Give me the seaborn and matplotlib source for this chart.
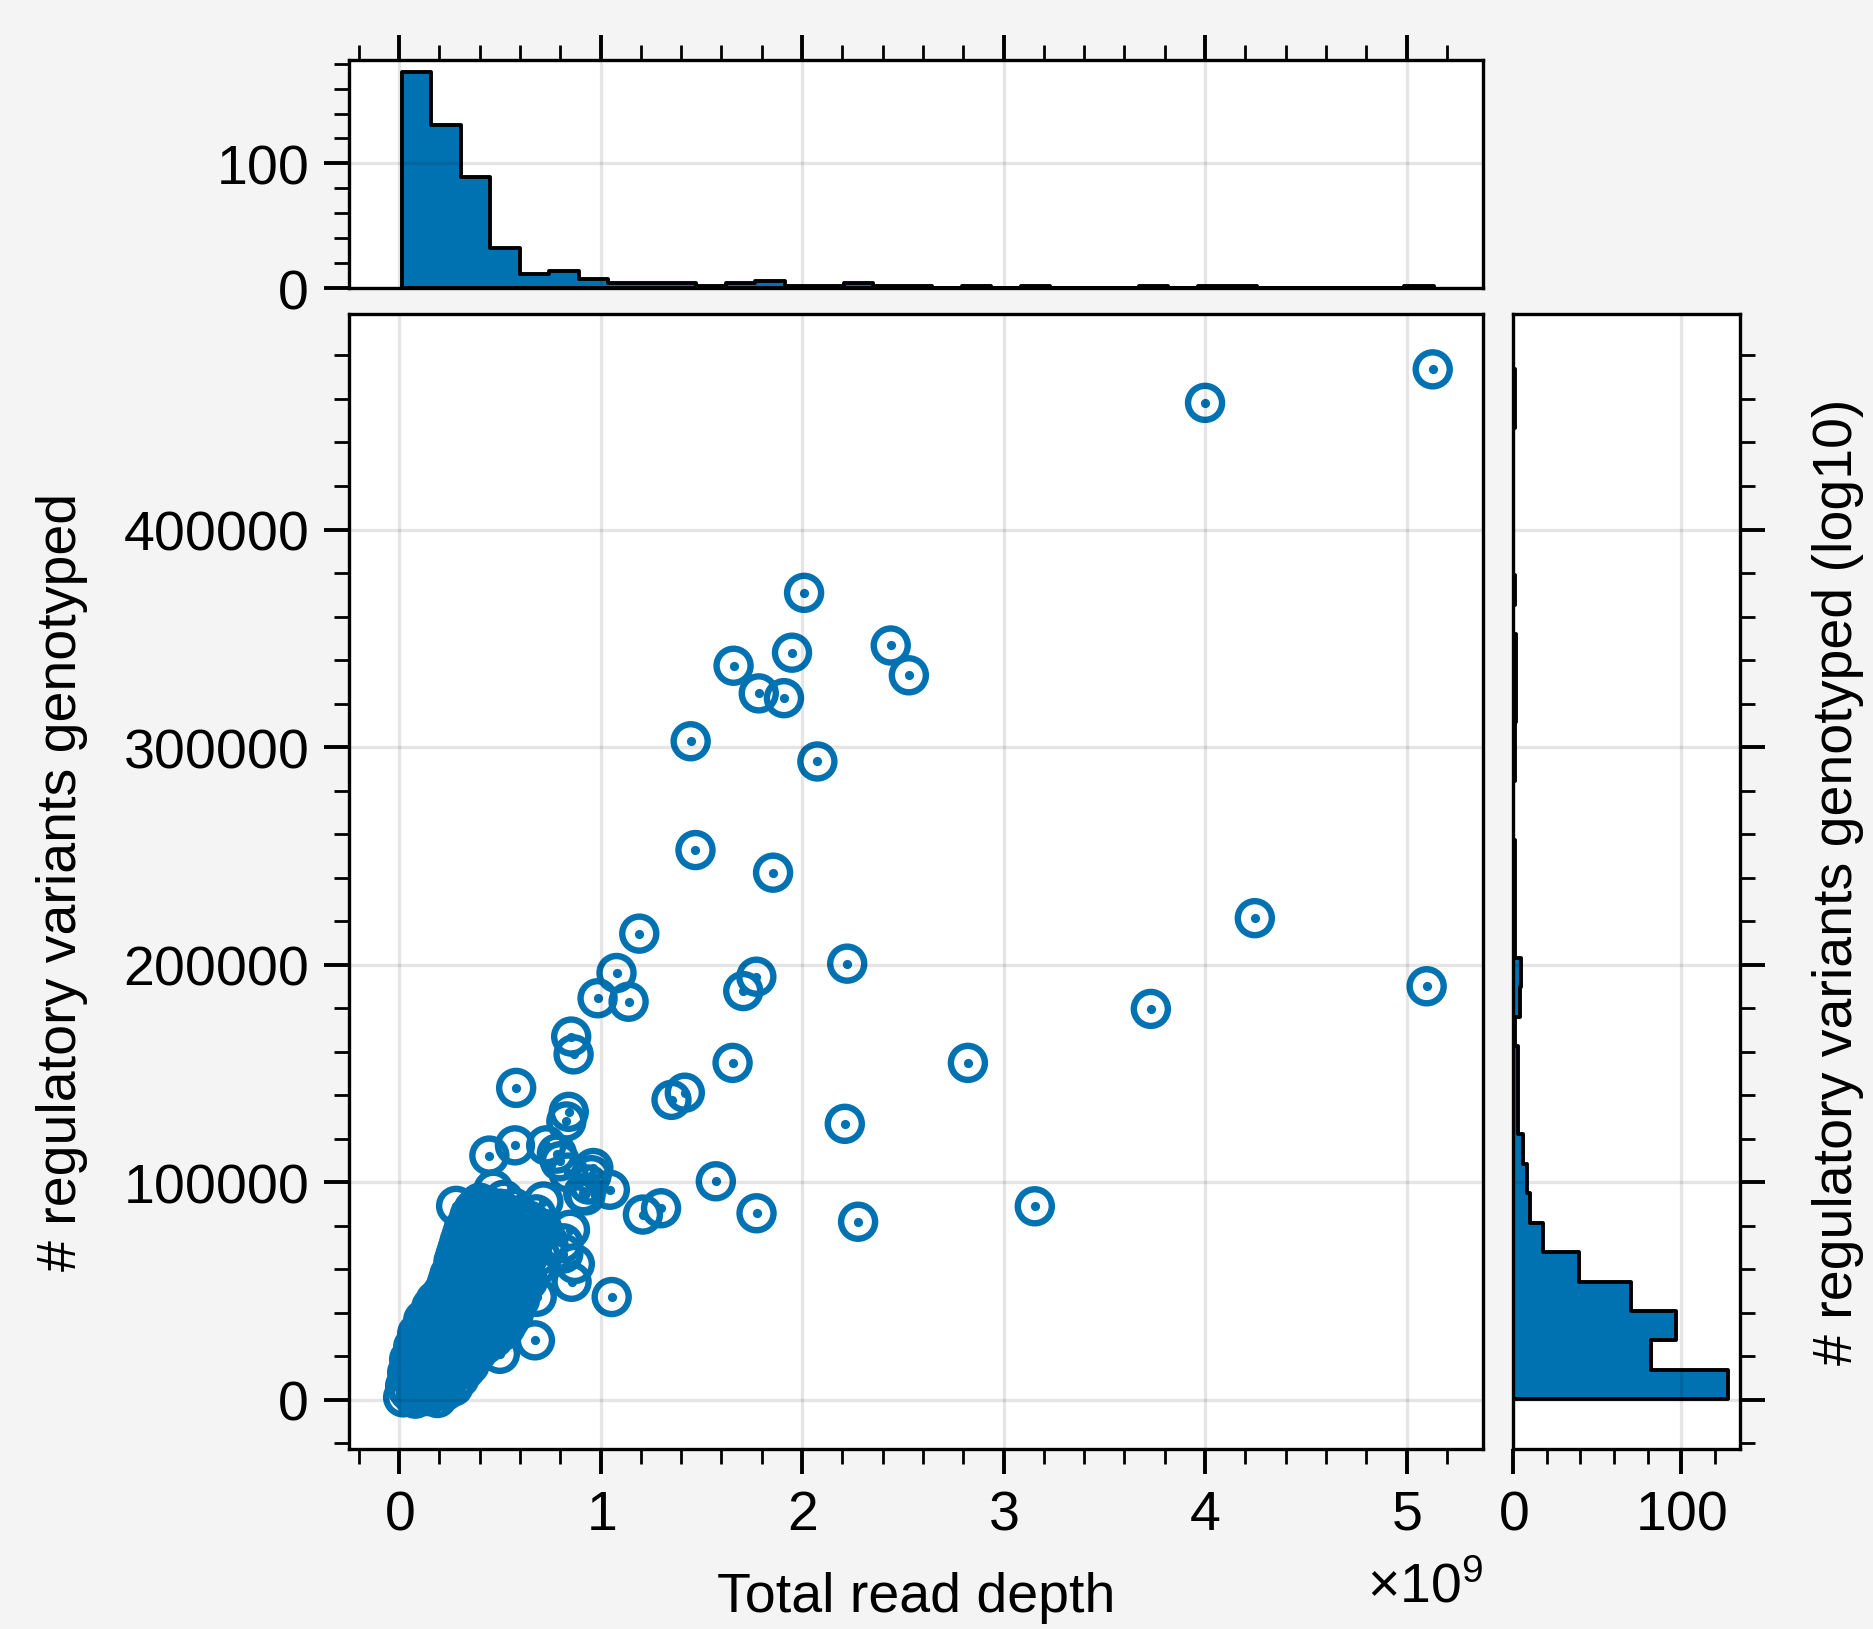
import numpy as np
import pandas as pd
import matplotlib
matplotlib.use("Agg")
import matplotlib.pyplot as plt
from matplotlib.ticker import MultipleLocator
import seaborn as sns

sns.set_theme(style="ticks")
plt.rcParams["font.family"] = ["Liberation Sans", "DejaVu Sans"]
plt.rcParams["mathtext.fontset"] = "custom"
plt.rcParams["mathtext.rm"] = "Liberation Sans"
plt.rcParams["mathtext.it"] = "Liberation Sans:italic"
plt.rcParams["axes.formatter.use_mathtext"] = True
plt.rcParams["axes.axisbelow"] = "line"
plt.rcParams["font.size"] = 20
plt.rcParams["text.color"] = "black"
plt.rcParams["axes.labelcolor"] = "black"
plt.rcParams["xtick.color"] = "black"
plt.rcParams["ytick.color"] = "black"

BLUE = "#0072B2"

# scattered samples (read depth in 1e9, variants in 1e3)
out_depth = [5.13, 4.00, 2.01, 1.66, 1.95, 2.44, 2.53, 1.785, 1.91, 1.447,
             2.076, 1.471, 1.856, 1.192, 4.247, 2.224, 5.10, 1.079, 0.985, 1.139,
             1.773, 1.708, 3.731, 0.854, 0.866, 1.655, 2.823, 0.581, 1.352, 1.418,
             2.212, 0.842, 0.830, 0.575, 0.448, 0.730, 0.783, 1.572, 0.964, 1.046,
             0.914, 3.155, 1.210, 1.300, 1.774, 2.278, 1.055, 0.674, 0.283, 0.856,
             0.468, 0.716, 0.848, 0.815, 0.798, 0.500, 0.683, 0.683, 0.815, 0.940,
             0.955, 0.925, 0.840, 0.872]
out_variants = [473.6, 458.2, 370.9, 337.4, 343.4, 346.7, 333.0, 324.7, 322.5, 302.7,
                293.4, 252.7, 242.3, 214.3, 221.4, 200.5, 190.1, 196.2, 184.6, 183.0,
                194.5, 187.9, 179.7, 167.0, 158.8, 154.9, 154.9, 143.4, 137.9, 141.2,
                126.9, 132.4, 128.0, 117.0, 112.3, 117.0, 113.2, 100.5, 106.6, 96.6,
                95.0, 89.0, 85.2, 88.1, 85.8, 81.9, 47.3, 27.4, 89.2, 54.3,
                96.6, 91.2, 78.2, 72.0, 109.7, 21.2, 61.2, 47.4, 67.3, 99.0,
                103.3, 94.0, 104.5, 62.5]

# dense cluster near the origin
blob_depth = [0.02, 0.08, 0.14, 0.19,
              0.05, 0.11, 0.17, 0.23,
              0.03, 0.09, 0.15, 0.21, 0.27,
              0.06, 0.12, 0.18, 0.24, 0.30,
              0.04, 0.10, 0.16, 0.22, 0.28, 0.33,
              0.07, 0.13, 0.19, 0.25, 0.31, 0.35,
              0.05, 0.11, 0.17, 0.23, 0.29, 0.36,
              0.08, 0.14, 0.20, 0.26, 0.32, 0.39,
              0.07, 0.13, 0.19, 0.25, 0.31, 0.37, 0.43,
              0.10, 0.16, 0.22, 0.28, 0.34, 0.40, 0.47,
              0.09, 0.15, 0.21, 0.27, 0.33, 0.39, 0.45, 0.51,
              0.12, 0.18, 0.24, 0.30, 0.36, 0.42, 0.48, 0.53,
              0.12, 0.18, 0.24, 0.30, 0.36, 0.42, 0.48, 0.55,
              0.15, 0.21, 0.27, 0.33, 0.39, 0.45, 0.51, 0.57,
              0.16, 0.21, 0.27, 0.33, 0.39, 0.45, 0.51, 0.58,
              0.18, 0.24, 0.30, 0.36, 0.42, 0.48, 0.54, 0.60,
              0.21, 0.26, 0.32, 0.38, 0.44, 0.50, 0.56, 0.61,
              0.23, 0.29, 0.35, 0.41, 0.47, 0.53, 0.59,
              0.24, 0.30, 0.36, 0.42, 0.48, 0.54, 0.60, 0.64,
              0.25, 0.31, 0.37, 0.43, 0.49, 0.55, 0.61,
              0.27, 0.32, 0.38, 0.44, 0.50, 0.56, 0.62,
              0.27, 0.33, 0.39, 0.45, 0.51, 0.57, 0.63,
              0.28, 0.34, 0.40, 0.46, 0.52, 0.58, 0.65, 0.70,
              0.29, 0.35, 0.41, 0.47, 0.53, 0.59, 0.66,
              0.30, 0.36, 0.42, 0.48, 0.54, 0.60, 0.67, 0.74,
              0.31, 0.37, 0.43, 0.49, 0.55, 0.61, 0.69,
              0.32, 0.38, 0.44, 0.50, 0.56, 0.63, 0.71,
              0.34, 0.40, 0.46, 0.52, 0.58, 0.65,
              0.35, 0.41, 0.47, 0.53, 0.60, 0.68,
              0.37, 0.44, 0.50, 0.57,
              0.40, 0.52]
blob_variants = [1.2, 0.6, 1.8, 0.9,
                 3.9, 4.6, 3.5, 4.2,
                 6.5, 7.4, 6.8, 7.9, 6.2,
                 9.8, 10.5, 9.6, 10.9, 10.1,
                 12.6, 13.5, 12.2, 13.9, 12.8, 14.1,
                 15.7, 16.4, 16.0, 15.5, 16.8, 16.2,
                 18.7, 19.6, 18.4, 20.1, 19.2, 18.6,
                 21.6, 22.5, 21.9, 22.8, 21.4, 22.2,
                 24.5, 25.6, 24.8, 26.0, 25.1, 24.2, 25.7,
                 27.7, 28.6, 27.5, 28.9, 28.1, 27.3, 28.4,
                 30.6, 31.8, 30.3, 31.5, 30.9, 32.0, 30.4, 31.6,
                 33.6, 34.7, 33.9, 34.3, 33.4, 34.9, 34.1, 33.7,
                 36.8, 37.7, 36.3, 38.1, 37.2, 36.5, 37.9, 36.9,
                 39.6, 40.8, 39.9, 40.5, 39.4, 40.7, 40.1, 39.8,
                 42.7, 43.9, 42.4, 43.6, 42.9, 44.0, 42.5, 43.3,
                 45.6, 46.7, 45.9, 46.4, 45.3, 46.8, 45.7, 46.2,
                 48.6, 49.8, 48.9, 50.1, 48.4, 49.5, 48.8, 50.2,
                 51.7, 52.5, 51.4, 52.8, 51.9, 52.3, 51.6,
                 54.5, 55.7, 54.9, 56.0, 54.6, 55.4, 56.1, 54.8,
                 57.6, 58.5, 57.9, 58.7, 57.4, 58.3, 57.8,
                 60.8, 61.9, 60.4, 61.6, 60.9, 62.0, 61.2,
                 63.7, 64.6, 63.9, 64.4, 63.5, 64.8, 64.1,
                 66.7, 67.8, 66.3, 67.5, 66.9, 68.0, 67.2, 66.6,
                 69.6, 70.7, 69.9, 70.4, 69.5, 70.8, 70.2,
                 72.8, 73.9, 72.5, 73.6, 72.9, 74.1, 73.3, 72.7,
                 75.6, 76.5, 75.9, 76.7, 75.4, 76.3, 75.8,
                 78.6, 79.8, 78.9, 80.1, 78.4, 79.5, 78.8,
                 81.7, 82.6, 81.9, 82.4, 81.5, 82.2,
                 84.7, 85.9, 84.4, 85.6, 84.9, 85.3,
                 87.6, 88.5, 87.9, 88.3,
                 90.6, 92.0]

# marginal histogram counts (35 bins each)
depth_min, depth_max = 0.012e9, 5.136e9
depth_counts = [173, 131, 89, 32, 11, 14, 7, 4, 4, 4, 2, 4, 6, 2, 2, 4, 2, 2,
                0, 2, 0, 2, 0, 0, 0, 2, 0, 2, 2, 0, 0, 0, 0, 0, 2]
var_min, var_max = 300, 473600
var_counts = [128, 82, 97, 70, 39, 18, 10, 8, 6, 3, 3, 3, 1, 4, 5, 1, 1, 1,
              1, 0, 0, 1, 1, 2, 2, 2, 0, 1, 0, 0, 0, 0, 0, 1, 1]

df = pd.DataFrame({
    "depth": np.array(out_depth + blob_depth) * 1e9,
    "variants": np.array(out_variants + blob_variants) * 1e3,
})
n_bins = len(depth_counts)
depth_w = (depth_max - depth_min) / n_bins
var_w = (var_max - var_min) / n_bins
depth_hist = pd.DataFrame({
    "mid": depth_min + depth_w * (np.arange(n_bins) + 0.5),
    "count": depth_counts,
})
var_hist = pd.DataFrame({
    "mid": var_min + var_w * (np.arange(n_bins) + 0.5),
    "count": var_counts,
})

fig = plt.figure(figsize=(9.37, 8.145), dpi=200, facecolor="#f4f4f4")
ax = fig.add_axes([0.1862, 0.1105, 0.6052, 0.6967])
ax_top = fig.add_axes([0.1862, 0.8232, 0.6052, 0.1400])
ax_right = fig.add_axes([0.8074, 0.1105, 0.1211, 0.6967])

sns.scatterplot(data=df, x="depth", y="variants", ax=ax, marker="o", s=150,
                facecolor="none", edgecolor=BLUE, linewidth=2.3, zorder=1)
sns.scatterplot(data=df, x="depth", y="variants", ax=ax, marker="o", s=11,
                color=BLUE, linewidth=0, zorder=1)

sns.histplot(data=depth_hist, x="mid", weights="count", bins=n_bins,
             binrange=(depth_min, depth_max), ax=ax_top,
             element="step", fill=True, color=BLUE, alpha=1,
             edgecolor="black", linewidth=1.4)
sns.histplot(data=var_hist, y="mid", weights="count", bins=n_bins,
             binrange=(var_min, var_max), ax=ax_right,
             element="step", fill=True, color=BLUE, alpha=1,
             edgecolor="black", linewidth=1.4)

xlim = (-0.249e9, 5.38e9)
ylim = (-22530, 499000)
ax.set_xlim(xlim)
ax.set_ylim(ylim)
ax_top.set_xlim(xlim)
ax_top.set_ylim(0, 183)
ax_right.set_ylim(ylim)
ax_right.set_xlim(0, 135)

for a in (ax, ax_top, ax_right):
    a.set_facecolor("white")
    for s in a.spines.values():
        s.set_visible(True)
        s.set_linewidth(1.2)
        s.set_color("black")
    a.grid(True, which="major", color="black", alpha=0.1, linewidth=1.2)
    a.tick_params(which="major", direction="out", length=9, width=1.4,
                  pad=5.7, labelsize=20, color="black", labelcolor="black")
    a.tick_params(which="minor", direction="out", length=5.4, width=1.0,
                  color="black")
    a.set_xlabel("")
    a.set_ylabel("")

for a in (ax, ax_top):
    a.xaxis.set_major_locator(MultipleLocator(1e9))
    a.xaxis.set_minor_locator(MultipleLocator(0.2e9))
for a in (ax, ax_right):
    a.yaxis.set_major_locator(MultipleLocator(100000))
    a.yaxis.set_minor_locator(MultipleLocator(20000))
ax_top.yaxis.set_major_locator(MultipleLocator(100))
ax_top.yaxis.set_minor_locator(MultipleLocator(20))
ax_right.xaxis.set_major_locator(MultipleLocator(100))
ax_right.xaxis.set_minor_locator(MultipleLocator(20))

ax.tick_params(which="both", top=False, right=False)
ax_top.tick_params(which="both", bottom=False, top=True, labelbottom=False,
                   labeltop=False, left=True, right=False)
ax_top.xaxis.offsetText.set_visible(False)
ax_right.tick_params(which="both", left=False, right=True, labelleft=False,
                     labelright=False, bottom=True, top=False)

ax.set_xlabel("Total read depth", fontsize=20, labelpad=10.8, color="black")
ax.set_ylabel("# regulatory variants genotyped", fontsize=20, labelpad=12.8,
              color="black")
ax.xaxis.OFFSETTEXTPAD = 7.5
ax.xaxis.get_offset_text().set_fontsize(20)
ax.xaxis.get_offset_text().set_color("black")

ax_right.yaxis.set_label_position("right")
ax_right.set_ylabel("# regulatory variants genotyped (log10)", fontsize=20,
                    labelpad=17, color="black")

fig.savefig("out.png", dpi=200, facecolor=fig.get_facecolor())
